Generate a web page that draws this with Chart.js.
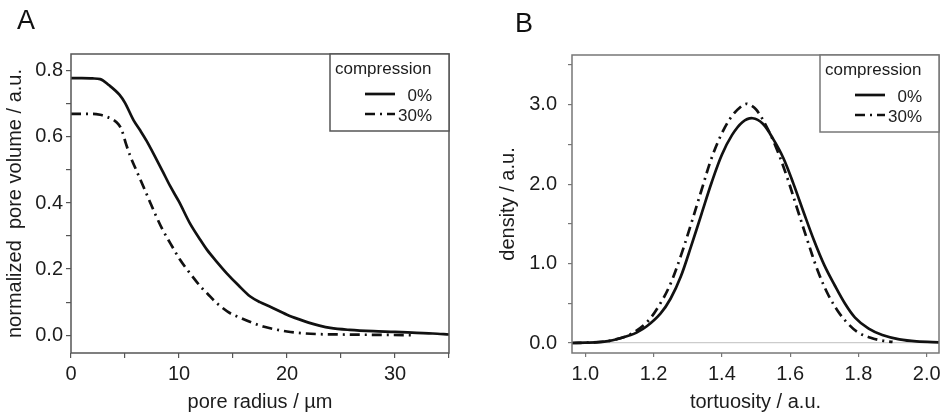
<!DOCTYPE html>
<html>
<head>
<meta charset="utf-8">
<script src="https://cdn.jsdelivr.net/npm/chart.js@4.4.1/dist/chart.umd.min.js"></script>
<style>
  body { margin: 0; background: #fff; width: 940px; height: 420px; overflow: hidden; position: relative; }
  .panel { position: absolute; top: 0; height: 420px; overflow: hidden; }
  #panelA { left: 0; width: 470px; }
  #panelB { left: 470px; width: 470px; }
</style>
</head>
<body>
<div class="panel" id="panelA"><canvas id="chartA" width="470" height="420"></canvas></div>
<div class="panel" id="panelB"><canvas id="chartB" width="500" height="420"></canvas></div>
<script>
// Panel A - pore volume vs pore radius
const radiusA0 = [0, 1, 2, 2.7, 3.5, 4.5, 5.0, 5.8, 6.4, 7.0, 7.9, 8.5, 9.2, 10, 11, 12, 12.6, 13.5, 14.4, 15.5, 16.6, 17.5, 18.4, 20, 21.2, 22, 23, 24, 25.8, 28, 30, 32, 33.5, 35];
const volumeA0 = [0.778, 0.778, 0.777, 0.775, 0.757, 0.727, 0.703, 0.650, 0.620, 0.588, 0.533, 0.495, 0.450, 0.404, 0.339, 0.287, 0.258, 0.222, 0.188, 0.151, 0.117, 0.100, 0.087, 0.062, 0.047, 0.038, 0.029, 0.022, 0.016, 0.012, 0.010, 0.007, 0.005, 0.002];
const radiusA30 = [0, 1, 2, 2.7, 3.3, 3.9, 4.4, 4.7, 5.1, 5.5, 6.1, 6.7, 7.3, 7.9, 8.5, 9.2, 10.1, 11, 12, 12.6, 13.5, 14.7, 15.5, 16.9, 17.8, 19, 20, 21, 23, 25, 28, 31.7];
const volumeA30 = [0.670, 0.670, 0.670, 0.667, 0.661, 0.652, 0.638, 0.621, 0.578, 0.541, 0.495, 0.450, 0.404, 0.359, 0.318, 0.278, 0.228, 0.188, 0.147, 0.127, 0.097, 0.067, 0.055, 0.036, 0.026, 0.017, 0.011, 0.007, 0.003, 0.002, 0.001, 0.0];

// Panel B - tortuosity density
const tortB0 = [0.96, 1.0, 1.05, 1.08, 1.13, 1.15, 1.18, 1.22, 1.25, 1.28, 1.31, 1.34, 1.37, 1.40, 1.43, 1.46, 1.49, 1.52, 1.55, 1.58, 1.61, 1.64, 1.67, 1.70, 1.73, 1.76, 1.79, 1.83, 1.87, 1.92, 1.97, 2.04];
const densB0 = [0.0, 0.004, 0.015, 0.034, 0.097, 0.13, 0.21, 0.37, 0.56, 0.84, 1.22, 1.62, 2.02, 2.37, 2.62, 2.78, 2.83, 2.76, 2.57, 2.33, 2.00, 1.64, 1.29, 0.98, 0.73, 0.50, 0.32, 0.18, 0.10, 0.045, 0.02, 0.008];
const tortB30 = [0.96, 1.0, 1.05, 1.08, 1.13, 1.18, 1.22, 1.25, 1.28, 1.31, 1.34, 1.37, 1.40, 1.43, 1.46, 1.475, 1.50, 1.53, 1.56, 1.59, 1.62, 1.65, 1.68, 1.71, 1.74, 1.77, 1.80, 1.84, 1.87, 1.90];
const densB30 = [0.0, 0.004, 0.016, 0.036, 0.105, 0.26, 0.50, 0.75, 1.10, 1.50, 1.92, 2.33, 2.64, 2.86, 2.99, 3.01, 2.94, 2.73, 2.45, 2.10, 1.70, 1.30, 0.92, 0.62, 0.40, 0.24, 0.13, 0.06, 0.03, 0.013];

const seriesNames = ['0%', '30%'];
const legendTitle = 'compression';

// ticks
const radiusTicks = [0, 5, 10, 15, 20, 25, 30, 35];
const radiusLabels = [0, 10, 20, 30];
const volumeTicks = [0, 0.1, 0.2, 0.3, 0.4, 0.5, 0.6, 0.7, 0.8];
const volumeLabels = [0, 0.2, 0.4, 0.6, 0.8];
const tortTicks = [1.0, 1.2, 1.4, 1.6, 1.8, 2.0];
const densTicks = [0, 0.5, 1, 1.5, 2, 2.5, 3, 3.5];
const densLabels = [0, 1, 2, 3];

const FONT = '"Liberation Sans", Arial, sans-serif';
const TEXT = '#1c1c1c';
const DASHDOT = [10, 5, 2, 5];

function pts(xs, ys) {
  return xs.map((x, i) => ({ x: x, y: ys[i] }));
}
function has(list, v) {
  return list.some(l => Math.abs(l - v) < 1e-6);
}

// frame, legend box and panel letter
function decor(letter, lx, ly, frameColor) {
  return {
    id: 'decor' + letter,
    afterDraw(chart) {
      const ctx = chart.ctx;
      const a = chart.chartArea;
      ctx.save();
      ctx.strokeStyle = frameColor;
      ctx.lineWidth = 1.5;
      ctx.strokeRect(a.left, a.top, a.right - a.left, a.bottom - a.top);

      // legend
      const w = 119, h = 77, r = a.right, t = a.top;
      ctx.fillStyle = '#fff';
      ctx.fillRect(r - w, t, w, h);
      ctx.strokeRect(r - w, t, w, h);
      ctx.fillStyle = TEXT;
      ctx.font = '17px ' + FONT;
      ctx.textAlign = 'left';
      ctx.textBaseline = 'alphabetic';
      ctx.fillText(legendTitle, r - w + 5, t + 20);
      chart.data.datasets.forEach((ds, i) => {
        const y = t + 40 + 20 * i;
        ctx.beginPath();
        ctx.setLineDash(ds.borderDash || []);
        ctx.strokeStyle = ds.borderColor;
        ctx.lineWidth = ds.borderWidth;
        ctx.moveTo(r - 84, y);
        ctx.lineTo(r - 54, y);
        ctx.stroke();
        ctx.setLineDash([]);
        ctx.textAlign = 'right';
        ctx.fillText(ds.label, r - 17, y + 7);
      });

      ctx.font = '27px ' + FONT;
      ctx.textAlign = 'left';
      ctx.fillStyle = '#111';
      ctx.fillText(letter, lx, ly);
      ctx.restore();
    }
  };
}

function dataset(label, data, dash, smooth) {
  const ds = {
    label: label,
    data: data,
    borderColor: '#111',
    borderWidth: 2.7,
    borderDash: dash,
    pointRadius: 0,
    fill: false
  };
  if (smooth) ds.tension = 0.35;
  else ds.cubicInterpolationMode = 'monotone';
  return ds;
}

function axis(opts) {
  return {
    type: 'linear',
    min: opts.min,
    max: opts.max,
    afterBuildTicks: s => { s.ticks = opts.ticks.map(v => ({ value: v })); },
    afterFit: opts.fit,
    border: { display: false },
    grid: {
      drawOnChartArea: !!opts.zeroLine,
      color: opts.zeroLine ? (c => (c.tick && c.tick.value === 0 ? '#cccccc' : 'rgba(0,0,0,0)')) : opts.frame,
      tickColor: opts.frame,
      tickLength: opts.tickLength,
      lineWidth: 1.2
    },
    ticks: {
      autoSkip: false,
      maxRotation: 0,
      padding: opts.padding,
      color: TEXT,
      font: { family: FONT, size: 20 },
      callback: opts.label
    },
    title: {
      display: true,
      text: opts.title,
      color: TEXT,
      font: { family: FONT, size: 20 },
      padding: opts.titlePad
    }
  };
}

new Chart(document.getElementById('chartA'), {
  type: 'line',
  data: {
    datasets: [
      dataset(seriesNames[0], pts(radiusA0, volumeA0), [], false),
      dataset(seriesNames[1], pts(radiusA30, volumeA30), DASHDOT, false)
    ]
  },
  options: {
    responsive: false,
    animation: false,
    layout: { padding: { top: 54, right: 21, bottom: 0, left: 0 } },
    plugins: { legend: { display: false }, tooltip: { enabled: false } },
    scales: {
      x: axis({
        min: 0, max: 35, ticks: radiusTicks, frame: '#555', tickLength: 5, padding: 4,
        fit: s => { s.height = 67; },
        label: v => (has(radiusLabels, v) ? String(v) : ''),
        title: 'pore radius / µm', titlePad: { top: 0, bottom: 6 }
      }),
      y: axis({
        min: -0.054, max: 0.851, ticks: volumeTicks, frame: '#555', tickLength: 5, padding: 3,
        fit: s => { s.width = 71; },
        label: v => (has(volumeLabels, v) ? v.toFixed(1) : ''),
        title: 'normalized  pore volume / a.u.', titlePad: { top: 3, bottom: 0 }
      })
    }
  },
  plugins: [decor('A', 17, 29, '#555')]
});

new Chart(document.getElementById('chartB'), {
  type: 'line',
  data: {
    datasets: [
      dataset(seriesNames[0], pts(tortB0, densB0), [], true),
      dataset(seriesNames[1], pts(tortB30, densB30), DASHDOT, true)
    ]
  },
  options: {
    responsive: false,
    animation: false,
    layout: { padding: { top: 55, right: 31, bottom: 0, left: 0 } },
    plugins: { legend: { display: false }, tooltip: { enabled: false } },
    scales: {
      x: axis({
        min: 0.961, max: 2.036, ticks: tortTicks, frame: '#777', tickLength: 4, padding: 5,
        fit: s => { s.height = 67; },
        label: v => v.toFixed(1),
        title: 'tortuosity / a.u.', titlePad: { top: 0, bottom: 6 }
      }),
      y: axis({
        min: -0.126, max: 3.626, ticks: densTicks, frame: '#777', tickLength: 4, padding: 11, zeroLine: true,
        fit: s => { s.width = 102; },
        label: v => (has(densLabels, v) ? v.toFixed(1) : ''),
        title: 'density / a.u.', titlePad: { top: 26, bottom: 0 }
      })
    }
  },
  plugins: [decor('B', 45, 32, '#777')]
});
</script>
</body>
</html>
